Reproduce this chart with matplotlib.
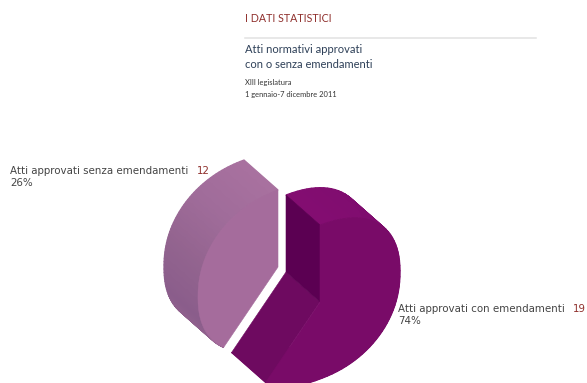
import numpy as np
import matplotlib
matplotlib.use('Agg')
import matplotlib.pyplot as plt
from matplotlib.patches import Polygon
from matplotlib.colors import to_rgb

slice_labels = ['Atti approvati con emendamenti', 'Atti approvati senza emendamenti']
slice_counts = [19, 12]
slice_shares = ['74%', '26%']
heading = 'I DATI STATISTICI'
title_lines = ['Atti normativi approvati', 'con o senza emendamenti']
note_lines = ['XIII legislatura', '1 gennaio-7 dicembre 2011']

W, H = 587, 383
RED = '#8f2f2c'
NAVY = '#2e4058'
GREY = '#444444'

# affine projection of the pie disc, all in pixels
AXIS_U = np.array([0.0, -77.0])
AXIS_W = np.array([80.0, -30.0])
DEPTH = np.array([34.0, 30.0])
ROUND = 0.9  # below 1 the rim bulges a little on the diagonals


def rim(centre, start, stop, n=70):
    phi = np.radians(np.linspace(start, stop, n))
    c = np.sign(np.cos(phi)) * np.abs(np.cos(phi)) ** ROUND
    s = np.sign(np.sin(phi)) * np.abs(np.sin(phi)) ** ROUND
    return centre + np.outer(c, AXIS_U) + np.outer(s, AXIS_W)


def blend(stops, t):
    pos = np.linspace(0, 1, len(stops))
    rgb = np.array([to_rgb(c) for c in stops])
    return [np.interp(t, pos, rgb[:, i]) for i in range(3)]


def fill(ax, pts, color, lw=0.4):
    ax.add_patch(Polygon(pts, closed=True, facecolor=color, edgecolor=color, linewidth=lw))


def draw_side(ax, front, start, stop, stops):
    edge = rim(front, start, stop)
    for i in range(len(edge) - 1):
        quad = [edge[i], edge[i + 1], edge[i + 1] - DEPTH, edge[i] - DEPTH]
        fill(ax, quad, blend(stops, i / (len(edge) - 2)), lw=0.9)


fig = plt.figure(figsize=(W / 100, H / 100), dpi=100)
ax = fig.add_axes([0, 0, 1, 1])
ax.set_xlim(0, W)
ax.set_ylim(H, 0)
ax.axis('off')

# slice angles run clockwise from 12 o'clock
angles = 360 * np.cumsum(slice_counts) / np.sum(slice_counts)

# larger slice, dark purple
front = np.array([320.0, 302.0])
draw_side(ax, front, 0, angles[0], ['#830d71', '#7e0c6e', '#7a0b69', '#7a0b69'])
end = rim(front, angles[0], angles[0], 1)[0]
fill(ax, [front, end, end - DEPTH, front - DEPTH], '#6e0a60')
top = rim(front, 0, 0, 1)[0]
fill(ax, [front, top, top - DEPTH, front - DEPTH], '#5b0052')
fill(ax, np.vstack([front, rim(front, 0, angles[0])]), '#790b68')

# smaller slice, pulled away from the centre
front = np.array([278.0, 267.0])
draw_side(ax, front, angles[0], angles[1],
          ['#96648f', '#8a5d8b', '#93648f', '#a06c9a', '#a8719f'])
fill(ax, np.vstack([front, rim(front, angles[0], angles[1])]), '#a56c9c')

# header block
ax.text(245, 19, heading, color=RED, family='Lato', fontsize=7.7, va='center')
ax.plot([245, 536], [38, 38], color='#e2e2e2', lw=1.1)
ax.text(245, 49.5, title_lines[0], color=NAVY, family='Lato', fontsize=8.0, va='center')
ax.text(245, 64.5, title_lines[1], color=NAVY, family='Lato', fontsize=8.0, va='center')
ax.text(245, 83, note_lines[0], color='#333333', family='Lato', fontsize=5.4, va='center')
ax.text(245, 94, note_lines[1], color='#333333', family='Lato', fontsize=5.4, va='center')

# slice labels: name and count on one line, share below
renderer = fig.canvas.get_renderer()
for (x, y), name, count, share in zip([(398, 309.5), (10.5, 171)], slice_labels, slice_counts, slice_shares):
    t = ax.text(x, y, name, color=GREY, fontsize=7.4, va='center')
    right = t.get_window_extent(renderer).x1
    ax.text(right + 8.5, y, str(count), color=RED, fontsize=7.4, va='center')
    ax.text(x, y + 11.5, share, color=GREY, fontsize=7.4, va='center')

fig.savefig('out.png', dpi=100, facecolor='white')
